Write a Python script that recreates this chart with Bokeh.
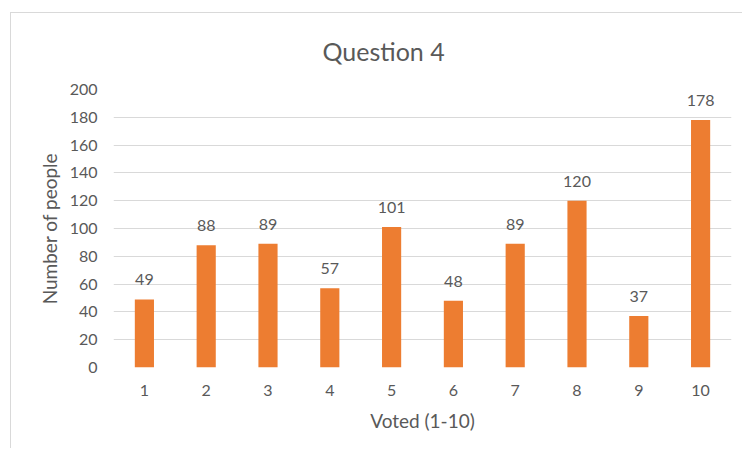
from bokeh.plotting import figure
from bokeh.models import ColumnDataSource, Range1d, FixedTicker, LabelSet, Title
from bokeh.core.properties import value
from bokeh.embed import file_html
from bokeh.resources import INLINE

categories = ["1", "2", "3", "4", "5", "6", "7", "8", "9", "10"]
votes = [49, 88, 89, 57, 101, 48, 89, 120, 37, 178]
y_ticks = [0, 20, 40, 60, 80, 100, 120, 140, 160, 180, 200]
title_text = "Question 4"
x_title = "Voted (1-10)"
y_title = "Number of people"

FONT = "Lato"
TEXT = "#595959"
GRID = "#D9D9D9"
BAR = "#ED7D31"

src = ColumnDataSource(dict(cat=categories, val=votes, lbl=[str(v) for v in votes]))

p = figure(
    x_range=categories,
    y_range=Range1d(0, 200),
    width=732,
    height=436,
    output_backend="svg",
    toolbar_location=None,
    min_border_left=102,
    min_border_right=12,
    min_border_top=76,
    min_border_bottom=82,
)
p.styles = {
    "margin-left": "10px",
    "margin-top": "12px",
    "border-left": f"1px solid {GRID}",
    "border-top": f"1px solid {GRID}",
}

p.vbar(x="cat", top="val", width=0.31, source=src, fill_color=BAR, line_color=None)

labels = LabelSet(x="cat", y="val", text="lbl", source=src, text_align="center",
                  text_baseline="bottom", y_offset=14, text_font=value(FONT),
                  text_font_size="16px", text_color=TEXT)
p.add_layout(labels)

t = Title(text=title_text, align="left", offset=209, standoff=44,
          vertical_align="top",
          text_font=FONT, text_font_size="25px", text_font_style="normal",
          text_color=TEXT)
p.add_layout(t, "above")

p.outline_line_color = None
p.xgrid.grid_line_color = None
p.ygrid.grid_line_color = GRID
p.ygrid.grid_line_width = 1

p.yaxis.ticker = FixedTicker(ticks=y_ticks)
for ax in (p.xaxis[0], p.yaxis[0]):
    ax.axis_line_color = None
    ax.major_tick_line_color = None
    ax.minor_tick_line_color = None
    ax.major_tick_out = 0
    ax.major_tick_in = 0
    ax.major_label_text_font = FONT
    ax.major_label_text_font_size = "16px"
    ax.major_label_text_color = TEXT
    ax.axis_label_text_font = FONT
    ax.axis_label_text_font_size = "19px"
    ax.axis_label_text_font_style = "normal"
    ax.axis_label_text_color = TEXT

p.xaxis.axis_label = x_title
p.yaxis.axis_label = y_title
p.xaxis.major_label_standoff = 17
p.yaxis.major_label_standoff = 16
p.xaxis.axis_label_standoff = 10
p.yaxis.axis_label_standoff = 6

open("out.html", "w").write(file_html(p, INLINE))
